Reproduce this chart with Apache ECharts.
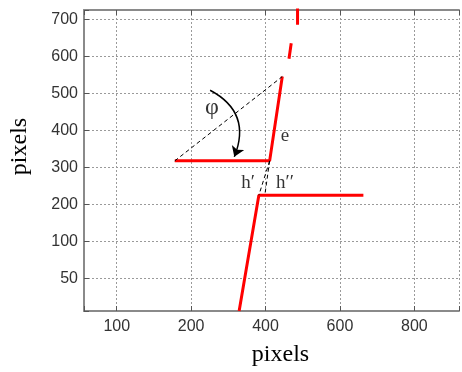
<!DOCTYPE html>
<html>
<head>
<meta charset="utf-8">
<title>pixels</title>
<script src="https://cdn.jsdelivr.net/npm/echarts@6/dist/echarts.min.js"></script>
<style>
  html, body { margin: 0; padding: 0; background: #fff; }
  #chart { width: 462px; height: 372px; }
</style>
</head>
<body>
<div id="chart"></div>
<script>
// tick labels as they are printed on the figure
const xTickValues = [0, 200, 400, 600, 800]
const xTickLabels = ['100', '200', '400', '600', '800']
const yTickValues = [0, 100, 200, 300, 400, 500, 600, 700]
const yTickLabels = ['50', '100', '200', '300', '400', '500', '600', '700']

// red traces
const lowerTrace = [[329, -88], [382, 225], [663, 225]]
const upperTrace = [[156, 318], [411, 318], [445, 546]]
const traceDash1 = [[463, 594], [469, 636]]
const traceDash2 = [[486, 686], [486, 740]]

// black dashed construction lines
const diagonal = [[156, 318], [445, 546]]
const hPrime = [[411, 318], [382, 225]]
const hDoublePrime = [[411, 318], [398, 225]]

// curved arrow for the angle
const angleArrow = [[251, 509], [316, 329]]

// text labels [x, y, text]
const annotations = [
  [256, 461, 'φ'],
  [452, 384, 'e'],
  [353, 257, 'h′'],
  [452, 257, 'h′′'],
]

const chart = echarts.init(document.getElementById('chart'))

const tickLabel = (values, labels) => (v) => {
  const i = values.indexOf(Math.round(v))
  return i >= 0 ? labels[i] : ''
}

const gridLine = {
  show: true,
  lineStyle: { color: '#9a9a9a', type: [2, 2], width: 1 },
}

const frameLine = { show: true, onZero: false, lineStyle: { color: '#8a8a8a', width: 2 } }
const innerTick = { show: true, inside: true, length: 5, lineStyle: { color: '#555' } }

const redLine = (data) => ({
  type: 'line',
  data: data,
  symbol: 'none',
  silent: true,
  lineStyle: { color: '#ff0000', width: 3 },
  z: 3,
})

const dashLine = (data) => ({
  type: 'line',
  data: data,
  symbol: 'none',
  silent: true,
  lineStyle: { color: '#000', width: 1, type: [4, 3] },
  z: 4,
})

const option = {
  animation: false,
  grid: { left: 82, top: 10, right: -4, bottom: 55 },
  xAxis: [
    {
      type: 'value',
      min: -88,
      max: 920,
      minInterval: 200,
      maxInterval: 200,
      name: 'pixels',
      nameLocation: 'middle',
      nameGap: 32,
      nameTextStyle: {
        fontFamily: 'Liberation Serif',
        fontSize: 24,
        color: '#000',
        padding: [0, 0, 0, 18],
      },
      axisLine: frameLine,
      axisTick: innerTick,
      axisLabel: {
        formatter: tickLabel(xTickValues, xTickLabels),
        fontFamily: 'Liberation Sans',
        fontSize: 16,
        color: '#333',
        margin: 8,
      },
      splitLine: gridLine,
    },
    {
      type: 'value',
      position: 'top',
      min: -88,
      max: 920,
      minInterval: 200,
      maxInterval: 200,
      axisLine: frameLine,
      axisTick: innerTick,
      axisLabel: { show: false },
      splitLine: { show: false },
    },
  ],
  yAxis: {
    type: 'value',
    min: -88,
    max: 726,
    minInterval: 100,
    maxInterval: 100,
    name: 'pixels',
    nameLocation: 'middle',
    nameGap: 52,
    nameTextStyle: {
      fontFamily: 'Liberation Serif',
      fontSize: 24,
      color: '#000',
      padding: [0, 0, 0, 28],
    },
    axisLine: frameLine,
    axisTick: innerTick,
    axisLabel: {
      formatter: tickLabel(yTickValues, yTickLabels),
      fontFamily: 'Liberation Sans',
      fontSize: 16,
      color: '#333',
      margin: 6,
    },
    splitLine: gridLine,
  },
  series: [
    redLine(lowerTrace),
    redLine(upperTrace),
    redLine(traceDash1),
    redLine(traceDash2),
    dashLine(diagonal),
    dashLine(hPrime),
    dashLine(hDoublePrime),
    {
      type: 'lines',
      coordinateSystem: 'cartesian2d',
      silent: true,
      symbol: ['none', 'arrow'],
      symbolSize: 10,
      lineStyle: { color: '#000', width: 1.5, curveness: 0.45, opacity: 1 },
      data: [{ coords: angleArrow }],
      z: 5,
    },
    {
      type: 'scatter',
      symbolSize: 0,
      silent: true,
      // the angle symbol is drawn a little larger than the other labels
      data: annotations.map((a, i) => ({
        value: a,
        label: { fontSize: i === 0 ? 24 : 19 },
      })),
      label: {
        show: true,
        position: 'inside',
        formatter: (p) => p.value[2],
        fontFamily: 'Liberation Serif',
        color: '#000',
      },
      z: 6,
    },
  ],
}

chart.setOption(option)
</script>
</body>
</html>
